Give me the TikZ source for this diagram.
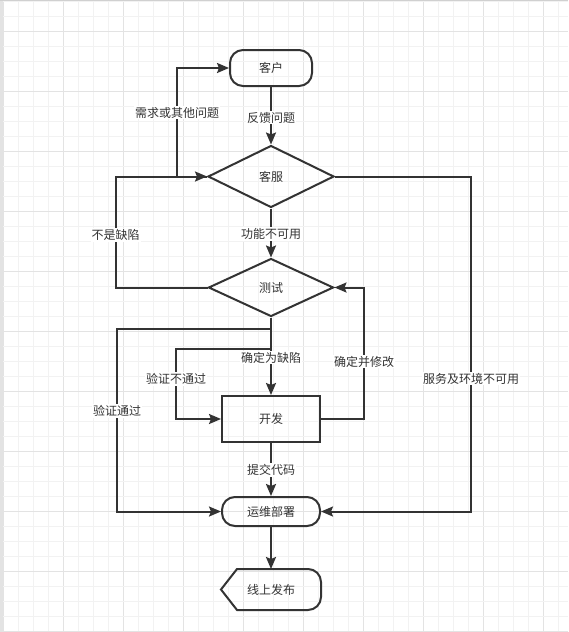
\documentclass[tikz,border=0pt]{standalone}
\usepackage{fontspec}
\newfontfamily\cjk{Noto Sans CJK SC}
\usetikzlibrary{shapes.geometric,arrows.meta}
\definecolor{ink}{HTML}{333333}
\definecolor{gminor}{HTML}{F2F2F2}
\definecolor{gmajor}{HTML}{E3E3E3}
\definecolor{edgegray}{HTML}{D0D0D0}
\begin{document}
\begin{tikzpicture}[x=1pt,y=-1pt,
  font=\cjk\fontsize{12pt}{14pt}\selectfont,
  box/.style={draw=ink, line width=2pt, text=ink, inner sep=0pt},
  term/.style={box, rounded corners=13pt},
  dia/.style={box, diamond},
  lbl/.style={fill=white, text=ink, inner sep=1pt},
  arr/.style={draw=ink, line width=2pt, -{Stealth[length=12pt,width=10pt,inset=2pt]}},
]
\useasboundingbox (0,0) rectangle (568,632);
\fill[white] (0,0) rectangle (568,632);
% grid
\foreach \k in {0,...,37} {
  \pgfmathtruncatemacro\m{mod(\k,4)}
  \ifnum\m=0 \draw[gmajor,line width=1pt] (3.3+15*\k,0) -- (3.3+15*\k,632);
  \else \draw[gminor,line width=1pt] (3.3+15*\k,0) -- (3.3+15*\k,632); \fi
}
\foreach \k in {0,...,42} {
  \pgfmathtruncatemacro\m{mod(\k,4)}
  \ifnum\m=2 \draw[gmajor,line width=1pt] (0,1.7+15*\k) -- (568,1.7+15*\k);
  \else \draw[gminor,line width=1pt] (0,1.7+15*\k) -- (568,1.7+15*\k); \fi
}
\fill[gmajor] (0,0) rectangle (3,632);
\fill[edgegray] (0,0) rectangle (568,1.3);

% nodes
\node[term, minimum width=82pt, minimum height=36pt] (kehu) at (271,68) {客户};
\node[dia, minimum width=126pt, minimum height=62pt] (kefu) at (271,176.5) {客服};
\node[dia, minimum width=125pt, minimum height=58pt] (ceshi) at (271,287.5) {测试};
\node[box, minimum width=98pt, minimum height=46pt] (kaifa) at (271,419) {开发};
\node[term, minimum width=98pt, minimum height=29pt] (yunwei) at (271,511.5) {运维部署};
\node[inner sep=0pt, outer sep=0pt, minimum width=100pt, minimum height=41pt, text=ink] (xs) at (271,589.5) {线上发布};
\draw[ink, line width=2pt] (xs.west) -- ([xshift=16pt]xs.north west) -- ([xshift=-13pt]xs.north east)
  arc[start angle=90,end angle=0,radius=13pt] -- ([yshift=13pt]xs.south east)
  arc[start angle=0,end angle=-90,radius=13pt] -- ([xshift=16pt]xs.south west) -- cycle;

% connectors
\draw[arr] (kehu.south) -- (kefu.north);
\draw[arr] (kefu.west) -- ++(-30,0) |- (kehu.west);
\draw[arr] (ceshi.west) -- ++(-92,0) |- (kefu.west);
\draw[arr] (kefu.south) -- (ceshi.north);
\draw[arr] (kefu.east) -- ++(136,0) |- (yunwei.east);
\draw[arr] (ceshi.south) |- (117,328.5) |- (yunwei.west);
\draw[arr] (ceshi.south) |- (176,349) |- (kaifa.west);
\draw[arr] (ceshi.south) -- (kaifa.north);
\draw[arr] (kaifa.east) -- ++(43,0) |- (ceshi.east);
\draw[arr] (kaifa.south) -- (yunwei.north);
\draw[arr] (yunwei.south) -- (xs.north);

% labels
\node[lbl] (l1) at (271,117.5) {反馈问题};
\node[lbl] (l2) at (177,112.5) {需求或其他问题};
\node[lbl] (l3) at (115.5,235) {不是缺陷};
\node[lbl] (l4) at (271,234) {功能不可用};
\node[lbl] (l5) at (471,378.5) {服务及环境不可用};
\node[lbl] (l6) at (117,411) {验证通过};
\node[lbl] (l7) at (176,379) {验证不通过};
\node[lbl] (l8) at (271,357.5) {确定为缺陷};
\node[lbl] (l9) at (364,361.5) {确定并修改};
\node[lbl] (l10) at (271,470) {提交代码};
\end{tikzpicture}
\end{document}
